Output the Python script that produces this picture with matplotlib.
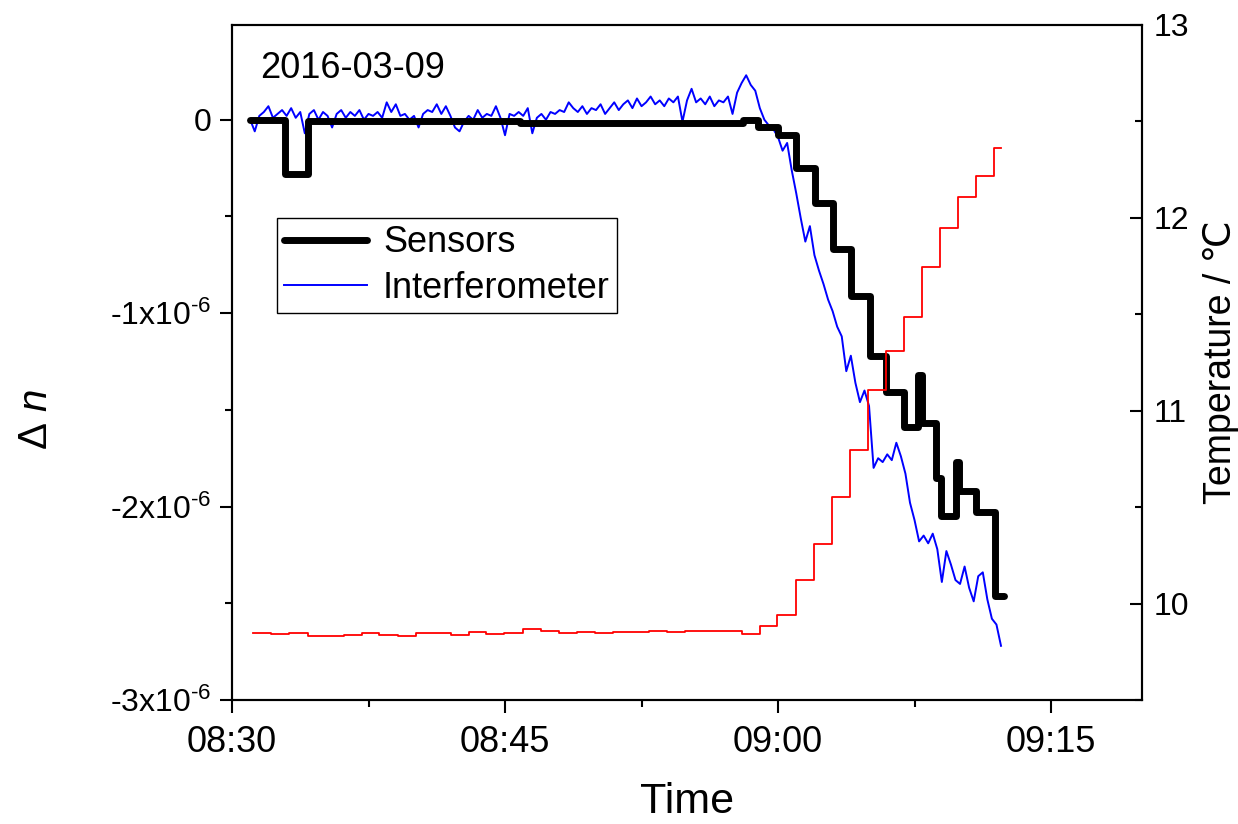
import numpy as np
import matplotlib
matplotlib.use("Agg")
import matplotlib.pyplot as plt
import matplotlib.dates as mdates
from matplotlib.ticker import MultipleLocator, FuncFormatter

plt.rcParams['font.family'] = ['Liberation Sans', 'DejaVu Sans']
plt.rcParams['mathtext.fontset'] = 'custom'
plt.rcParams['mathtext.rm'] = 'Liberation Sans'
plt.rcParams['mathtext.it'] = 'Liberation Sans:italic'

# sensor readings: minutes after 08:30, delta n in units of 1e-6
sens_min = [1.0, 2.9, 4.2, 15.8, 28.1, 28.9, 30.0, 31.0, 32.05, 33.0, 34.0, 35.05,
            35.95, 36.9, 37.7, 37.9, 38.7, 38.95, 39.8, 39.95, 40.9, 41.9, 42.4]
sens_dn = [0.0, -0.28, -0.005, -0.015, 0.0, -0.035, -0.08, -0.25, -0.43, -0.67, -0.91, -1.22,
           -1.41, -1.59, -1.32, -1.57, -1.85, -2.05, -1.77, -1.92, -2.03, -2.46, -2.46]

# interferometer: one sample every 15 s starting 08:31:00, delta n in units of 1e-6
interf_start = "2016-03-09T08:31:00"
interf_step_s = 15
interf_dn = [
    0.00, -0.06, 0.02, 0.04, 0.07, 0.01, 0.03, 0.05, 0.02, 0.06,
    0.01, 0.04, -0.07, 0.03, 0.05, 0.00, 0.04, 0.02, -0.04, 0.03,
    0.05, 0.01, 0.04, 0.02, 0.05, 0.00, 0.03, 0.02, 0.04, 0.01,
    0.09, 0.04, 0.08, 0.02, 0.03, 0.00, 0.02, -0.04, 0.03, 0.05,
    0.04, 0.08, 0.03, 0.07, 0.02, -0.04, -0.06, -0.01, 0.02, 0.00,
    0.05, 0.01, 0.03, 0.02, 0.07, 0.01, -0.08, 0.03, 0.02, 0.04,
    0.02, 0.06, -0.07, 0.01, 0.03, 0.00, 0.04, 0.03, 0.05, 0.04,
    0.09, 0.06, 0.04, 0.07, 0.03, 0.06, 0.05, 0.08, 0.03, 0.06,
    0.09, 0.05, 0.08, 0.10, 0.06, 0.11, 0.07, 0.09, 0.12, 0.08,
    0.10, 0.07, 0.11, 0.09, 0.12, -0.01, 0.10, 0.16, 0.09, 0.11,
    0.08, 0.12, 0.07, 0.10, 0.09, 0.12, 0.03, 0.14, 0.19, 0.23,
    0.18, 0.15,
    0.06, 0.00, -0.03, -0.05, -0.09, -0.16, -0.12, -0.26, -0.38, -0.51,
    -0.63, -0.55, -0.70, -0.78, -0.85, -0.93, -0.99, -1.07, -1.12, -1.30,
    -1.22, -1.36, -1.46, -1.40, -1.48, -1.80, -1.75, -1.77, -1.73, -1.76,
    -1.67, -1.74, -1.83, -1.98, -2.07, -2.18, -2.15, -2.19, -2.14, -2.22,
    -2.39, -2.23, -2.30, -2.38, -2.40, -2.31, -2.42, -2.49, -2.36, -2.34,
    -2.48, -2.58, -2.61, -2.72]

# temperature steps: minutes after 08:30, degC
temp_min = [1.15, 2.14, 3.12, 4.16, 5.15, 6.14, 7.12, 8.10, 9.10, 10.08,
            11.07, 12.05, 13.04, 13.97, 14.96, 16.00, 16.99, 17.97, 18.96, 19.95,
            20.93, 21.92, 22.90, 23.90, 24.90, 25.95, 27.00, 28.00, 28.99, 29.97,
            31.00, 32.00, 32.99, 33.97, 34.96, 35.95, 36.93, 37.92, 38.90, 39.89,
            40.88, 41.86, 42.25]
temp_c = [9.847, 9.841, 9.847, 9.832, 9.832, 9.838, 9.847, 9.838, 9.830, 9.845,
          9.845, 9.836, 9.851, 9.844, 9.847, 9.867, 9.860, 9.849, 9.853, 9.849,
          9.853, 9.853, 9.856, 9.851, 9.856, 9.856, 9.860, 9.844, 9.884, 9.943,
          10.123, 10.310, 10.555, 10.797, 11.105, 11.312, 11.485, 11.744, 11.949, 12.107,
          12.216, 12.362, 12.362]

t0 = np.datetime64("2016-03-09T08:30:00")


def to_time(minutes):
    return t0 + np.round(np.array(minutes) * 60).astype("timedelta64[s]")


sens_t = to_time(sens_min)
temp_t = to_time(temp_min)
interf_t = np.datetime64(interf_start) + np.arange(len(interf_dn)) * np.timedelta64(interf_step_s, "s")

fig = plt.figure(figsize=(12.38, 8.24), dpi=100)
ax = fig.add_axes([0.1874, 0.1505, 0.7351, 0.8192])

ax.plot(interf_t, np.array(interf_dn) * 1e-6, color="blue", lw=1.4, label="Interferometer", zorder=2)
ax.plot(sens_t, np.array(sens_dn) * 1e-6, color="black", lw=5, drawstyle="steps-post",
        solid_capstyle="round", solid_joinstyle="round", label="Sensors", zorder=3)

ax.set_xlim(np.datetime64("2016-03-09T08:30"), np.datetime64("2016-03-09T09:20"))
ax.set_ylim(-3e-6, 0.49e-6)
ax.xaxis.set_major_locator(mdates.MinuteLocator(byminute=[0, 15, 30, 45]))
ax.xaxis.set_minor_locator(MultipleLocator(7.5 / 1440))
ax.xaxis.set_major_formatter(mdates.DateFormatter("%H:%M"))
ax.yaxis.set_major_locator(MultipleLocator(1e-6))
ax.yaxis.set_minor_locator(MultipleLocator(0.5e-6))


def sci_fmt(v, pos):
    k = int(round(v * 1e6))
    return "0" if k == 0 else f"{k}x10$^{{\\text{{-}}6}}$"


ax.yaxis.set_major_formatter(FuncFormatter(sci_fmt))
ax.tick_params(which="both", direction="out", width=1.5, top=False, right=False)
ax.tick_params(axis="y", labelsize=23)
ax.tick_params(axis="x", labelsize=26)
ax.tick_params(which="major", length=9)
ax.tick_params(axis="x", which="major", pad=9)
ax.tick_params(axis="y", which="major", pad=6)
ax.tick_params(which="minor", length=5)
for s in ax.spines.values():
    s.set_linewidth(1.5)

ax.set_xlabel("Time", fontsize=31, labelpad=16)
ax.set_ylabel(r"$\Delta\ n$", fontsize=29)
ax.yaxis.set_label_coords(-0.194, 0.415)
ax.text(0.031, 0.935, "2016-03-09", transform=ax.transAxes, fontsize=26, va="center", ha="left")

handles, labels = ax.get_legend_handles_labels()
leg = ax.legend(handles[::-1], labels[::-1], loc="upper left", bbox_to_anchor=(0.049, 0.714),
                borderaxespad=0, fontsize=26, frameon=True, fancybox=False, framealpha=1,
                edgecolor="black", handlelength=2.3, handletextpad=0.45, labelspacing=0.3,
                borderpad=0.2)
leg.get_frame().set_linewidth(1.0)

ax2 = ax.twinx()
ax2.plot(temp_t, temp_c, color="red", lw=1.3, drawstyle="steps-post")
ax2.set_ylim(9.5, 13)
ax2.yaxis.set_major_locator(MultipleLocator(1))
ax2.yaxis.set_minor_locator(MultipleLocator(0.5))
ax2.tick_params(which="both", direction="in", width=1.5, labelsize=23, right=True, left=False)
ax2.tick_params(which="major", length=9, pad=8)
ax2.tick_params(which="minor", length=5)
ax2.set_ylabel("Temperature / ℃", fontsize=27, labelpad=10)
for s in ax2.spines.values():
    s.set_linewidth(1.5)

fig.savefig("out.png", dpi=100)
